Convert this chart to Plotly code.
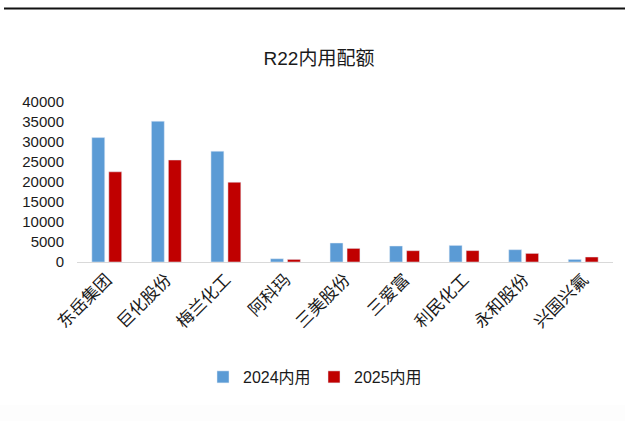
import plotly.graph_objects as go

categories = ["东岳集团", "巨化股份", "梅兰化工", "阿科玛", "三美股份", "三爱富", "利民化工", "永和股份", "兴国兴氟"]
values_2024 = [31100, 35200, 27700, 820, 4750, 4000, 4150, 3080, 650]
values_2025 = [22550, 25500, 19950, 650, 3400, 2830, 2850, 2150, 1250]
series_names = ["2024内用", "2025内用"]
y_ticks = [0, 5000, 10000, 15000, 20000, 25000, 30000, 35000, 40000]
y_tick_labels = [str(v) for v in y_ticks]

W, H = 625, 421
L, R, T, B = 77, 12, 102, 159
pw = W - L - R
ph = H - T - B

def px_x(x):
    return (x - L) / pw

def px_y(y):
    return (H - B - y) / ph

font_family = "Liberation Sans, Noto Sans CJK SC, sans-serif"
txt = "#1a1a1a"

fig = go.Figure()
fig.add_trace(go.Bar(x=categories, y=values_2024, name=series_names[0], marker_color="#5B9BD5"))
fig.add_trace(go.Bar(x=categories, y=values_2025, name=series_names[1], marker_color="#C00000"))

fig.update_layout(
    width=W, height=H,
    margin=dict(l=L, r=R, t=T, b=B),
    paper_bgcolor="white", plot_bgcolor="white",
    barmode="group", bargap=0.43, bargroupgap=0.24,
    font=dict(family=font_family, color=txt),
    title=dict(text="R22内用配额", x=319 / W, xanchor="center", xref="container",
               y=1 - 58 / H, yanchor="middle", yref="container",
               font=dict(size=19, color=txt, family=font_family)),
    xaxis=dict(tickangle=-45, tickfont=dict(size=17, color=txt),
               showline=True, linecolor="#D9D9D9", linewidth=1, ticks="",
               showgrid=False),
    yaxis=dict(range=[0, 40000], tickvals=y_ticks, ticktext=y_tick_labels,
               showgrid=False, zeroline=False,
               tickfont=dict(size=15, color=txt), ticks="", showline=False,
               ticklabelstandoff=12),
    legend=dict(orientation="h", x=203 / W, xanchor="left", xref="container",
                y=1 - 377 / H, yanchor="middle", yref="container",
                font=dict(size=16, color=txt), itemwidth=30,
                entrywidth=66, entrywidthmode="pixels",
                traceorder="normal", tracegroupgap=0),
    shapes=[
        dict(type="line", xref="paper", yref="paper",
             x0=px_x(4), x1=px_x(626), y0=px_y(8.5), y1=px_y(8.5),
             line=dict(color="#111111", width=2)),
        dict(type="rect", xref="paper", yref="paper",
             x0=px_x(0), x1=px_x(626), y0=px_y(405), y1=px_y(422),
             line=dict(width=0), fillcolor="#FDFDFD", layer="below"),
    ],
)

fig.write_html("out.html")
